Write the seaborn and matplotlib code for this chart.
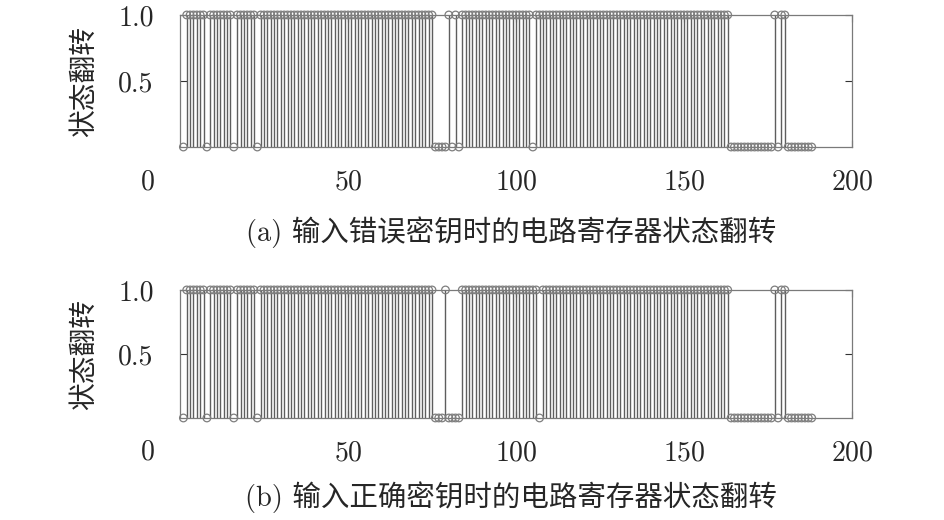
import numpy as np
import pandas as pd
import seaborn as sns
import matplotlib.pyplot as plt

# register state per clock cycle 1..188, one digit per cycle (1 = flipped)
flips_wrong_key = [
    "0111111011", "1111101111", "1101111111", "1111111111", "1111111111",
    "1111111111", "1111111111", "1111100001", "0101111111", "1111111111",
    "1111011111", "1111111111", "1111111111", "1111111111", "1111111111",
    "1111111111", "1110000000", "0000001011", "00000000",
]
flips_right_key = [
    "0111111011", "1111101111", "1101111111", "1111111111", "1111111111",
    "1111111111", "1111111111", "1111100010", "0001111111", "1111111111",
    "1111110111", "1111111111", "1111111111", "1111111111", "1111111111",
    "1111111111", "1110000000", "0000001011", "00000000",
]
captions = [
    "(a) 输入错误密钥时的电路寄存器状态翻转",
    "(b) 输入正确密钥时的电路寄存器状态翻转",
]
y_label = "状态翻转"
x_ticks = [50, 100, 150, 200]
y_ticks = [0.5, 1.0]
y_tick_labels = ["0.5", "1.0"]

stem_color = "#5e5e5e"
marker_color = "#7e7e7e"
frame_color = "#7a7a7a"

sns.set_style("ticks")
plt.rcParams["font.family"] = ["cmr10", "Noto Sans CJK SC"]
plt.rcParams["axes.formatter.use_mathtext"] = True

fig = plt.figure(figsize=(9.45, 5.2), dpi=100)

axes_pos = [
    [0.1905, 0.7173, 0.7111, 0.2539],
    [0.1905, 0.1962, 0.7111, 0.2462],
]
caption_y = [0.554, 0.044]
label_y = [0.844, 0.319]

for chunks, pos, cap, cy, ly in zip(
    [flips_wrong_key, flips_right_key], axes_pos, captions, caption_y, label_y
):
    ax = fig.add_axes(pos)

    state = [int(c) for c in "".join(chunks)]
    df = pd.DataFrame({"cycle": np.arange(1, len(state) + 1), "state": state})
    on = df[df["state"] == 1]

    # stems for flipped cycles
    ax.vlines(on["cycle"], 0, on["state"], color=stem_color, linewidth=1.0, zorder=2)

    # hollow circle at every cycle
    sns.scatterplot(
        data=df,
        x="cycle",
        y="state",
        marker="o",
        s=30,
        color=marker_color,
        facecolor="none",
        edgecolor=marker_color,
        linewidth=0.9,
        clip_on=False,
        zorder=3,
        ax=ax,
    )

    ax.set_xlim(0, 200)
    ax.set_ylim(0, 1)
    ax.set_xticks(x_ticks)
    ax.set_yticks(y_ticks)
    ax.set_yticklabels(y_tick_labels)
    ax.set_xlabel("")
    ax.set_ylabel("")

    for side in ["top", "bottom", "left", "right"]:
        ax.spines[side].set_visible(True)
        ax.spines[side].set_color(frame_color)
        ax.spines[side].set_linewidth(0.9)

    ax.tick_params(direction="in", length=5, width=0.8, color="#333333",
                   top=True, right=True, labelsize=20)
    ax.tick_params(axis="y", pad=19)
    ax.tick_params(axis="x", pad=16)

    ax.text(-0.048, -0.27, "0", transform=ax.transAxes,
            ha="center", va="center", fontsize=20)

    fig.text(0.09, ly, y_label, rotation=90, ha="center", va="center", fontsize=20)
    fig.text(0.541, cy, cap, ha="center", va="center", fontsize=20.5)

fig.savefig("out.png", dpi=100)
